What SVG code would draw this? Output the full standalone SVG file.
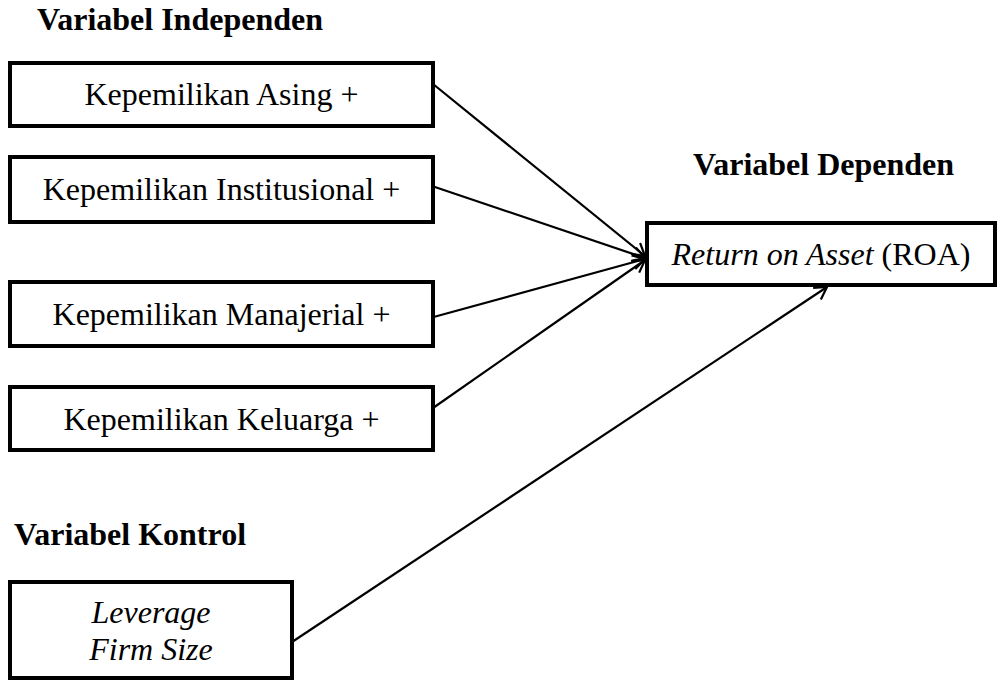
<svg xmlns="http://www.w3.org/2000/svg" width="998" height="680" viewBox="0 0 998 680">
<style>
.box{fill:#fff;stroke:#000;stroke-width:4}
.t{font-family:"Liberation Serif","Times New Roman",serif;font-size:32px;fill:#000}
.h{font-weight:bold}
.c{text-anchor:middle}
.i{font-style:italic}
.ln{stroke:#000;stroke-width:2.2;fill:none}
</style>
<defs>
<marker id="ah" markerWidth="16" markerHeight="16" refX="13" refY="8" orient="auto" markerUnits="userSpaceOnUse">
<path d="M1,1 L13,8 L1,15" fill="none" stroke="#000" stroke-width="2.2"/>
</marker>
</defs>
<text class="t h" x="37" y="30">Variabel Independen</text>
<text class="t h" x="693" y="175">Variabel Dependen</text>
<text class="t h" x="14" y="545">Variabel Kontrol</text>
<g id="connectors">
<line class="ln" x1="433" y1="84" x2="645" y2="256" marker-end="url(#ah)"/>
<line class="ln" x1="426" y1="184" x2="645" y2="258" marker-end="url(#ah)"/>
<line class="ln" x1="430" y1="318" x2="645" y2="259" marker-end="url(#ah)"/>
<line class="ln" x1="433" y1="408" x2="645" y2="260" marker-end="url(#ah)"/>
<line class="ln" x1="292" y1="642" x2="827" y2="287" marker-end="url(#ah)"/>
</g>
<g id="n1"><rect class="box" x="10" y="63" width="423" height="63"/><text class="t c" x="221.5" y="105">Kepemilikan Asing +</text></g>
<g id="n2"><rect class="box" x="10" y="157" width="423" height="65"/><text class="t c" x="221.5" y="200">Kepemilikan Institusional +</text></g>
<g id="n3"><rect class="box" x="10" y="282" width="423" height="64"/><text class="t c" x="221.5" y="325">Kepemilikan Manajerial +</text></g>
<g id="n4"><rect class="box" x="10" y="387" width="423" height="63"/><text class="t c" x="221.5" y="430">Kepemilikan Keluarga +</text></g>
<g id="n5"><rect class="box" x="10" y="582" width="282" height="96"/><text class="t c i" x="151" y="623">Leverage</text><text class="t c i" x="151" y="660">Firm Size</text></g>
<g id="n6"><rect class="box" x="647" y="223" width="348" height="62"/><text class="t c" x="821" y="265"><tspan class="i">Return on Asset</tspan> (ROA)</text></g>
</svg>
